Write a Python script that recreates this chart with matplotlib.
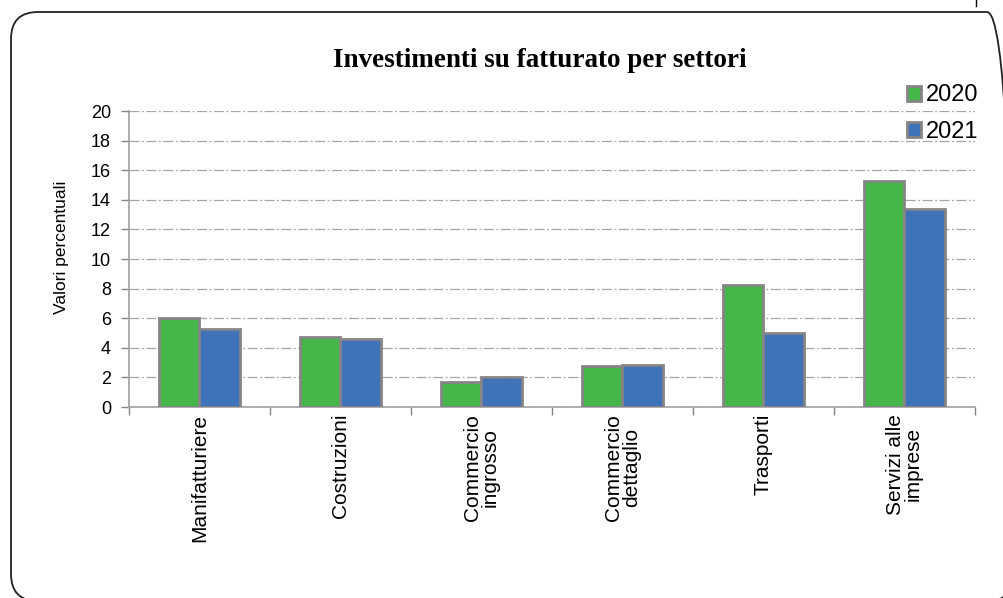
import numpy as np
import matplotlib
matplotlib.use("Agg")
import matplotlib.pyplot as plt
from matplotlib.patches import FancyBboxPatch

# data
settori = ["Manifatturiere", "Costruzioni", "Commercio\ningrosso",
           "Commercio\ndettaglio", "Trasporti", "Servizi alle\nimprese"]
val_2020 = [6.0, 4.7, 1.7, 2.75, 8.25, 15.3]
val_2021 = [5.3, 4.6, 2.0, 2.85, 5.0, 13.35]
anni = ["2020", "2021"]

verde = "#45b649"
blu = "#3f72b8"
bordo = "#858585"

plt.rcParams['font.family'] = ['Liberation Sans', 'DejaVu Sans']

fig = plt.figure(figsize=(10.04, 5.98), dpi=100)
W, H = 1004, 598

# rounded frame around the chart (pixel coords, origin bottom-left), runs off the bottom/right edges
frame = FancyBboxPatch((11, -3), 1003, 589, boxstyle="round,pad=0,rounding_size=27",
                       transform=None, fill=False, edgecolor="#222222", linewidth=1.3)
fig.patches.append(frame)

ax = fig.add_axes([129 / W, 1 - 407 / H, (975 - 129) / W, (407 - 111) / H])

x = np.arange(len(settori))
w = 0.29
ax.bar(x - w / 2, val_2020, w, color=verde, edgecolor=bordo, linewidth=2, label=anni[0], zorder=3)
ax.bar(x + w / 2, val_2021, w, color=blu, edgecolor=bordo, linewidth=2, label=anni[1], zorder=3)

ax.set_xlim(-0.5, len(settori) - 0.5)
ax.set_ylim(0, 20)
ax.set_yticks(np.arange(0, 21, 2))
ax.yaxis.grid(True, linestyle=(0, (8, 2, 1.5, 2)), color="#a6a6a6", linewidth=0.9)
ax.set_axisbelow(True)

ax.set_xticks(x)
ax.set_xticklabels(settori, rotation=90, va="top", ha="center", fontsize=15, linespacing=0.95)
ax.set_xticks(np.arange(-0.5, len(settori)), minor=True)
ax.tick_params(axis="x", which="major", length=0, pad=5)
ax.tick_params(axis="x", which="minor", length=6, color=bordo, width=1)
ax.tick_params(axis="y", length=6, color=bordo, width=1, labelsize=13, pad=7)

for s in ["top", "right"]:
    ax.spines[s].set_visible(False)
for s in ["left", "bottom"]:
    ax.spines[s].set_color("#a0a0a0")
    ax.spines[s].set_linewidth(1.2)

ax.set_ylabel("Valori percentuali", fontsize=12.5)
ax.yaxis.set_label_coords(-60 / 846, (407 - 247) / 296)

fig.text(540 / W, 1 - 67 / H, "Investimenti su fatturato per settori", ha="center", va="baseline",
         fontsize=19.5, fontweight="bold", family=["Liberation Serif", "DejaVu Serif"])

leg = fig.legend(loc="upper right", bbox_to_anchor=(988 / W, 1 - 75 / H), frameon=False,
                 fontsize=17, handlelength=0.6, handleheight=0.6, handletextpad=0.2,
                 labelspacing=0.62, borderaxespad=0)

# small fragment at the very top right
fig.add_artist(plt.Line2D([976 / W, 976 / W], [1.0, 1 - 6 / H], color="black", linewidth=1))

fig.savefig("out.png", dpi=100)
